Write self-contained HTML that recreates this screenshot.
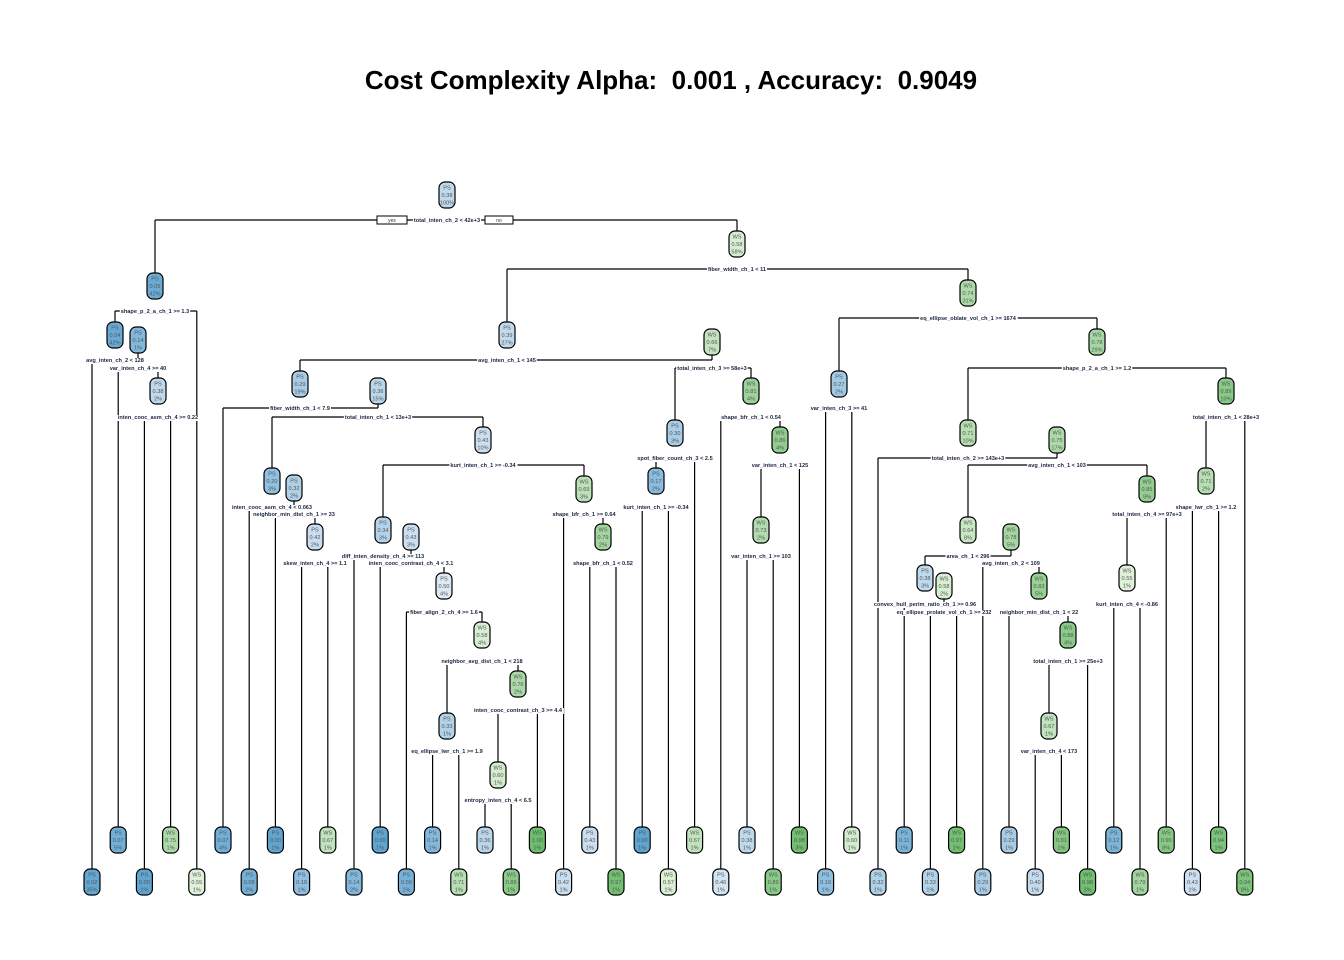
<!DOCTYPE html>
<html><head><meta charset="utf-8">
<style>
html,body{margin:0;padding:0;background:#fff;}
svg{display:block;}
</style></head>
<body>
<svg id="chart" width="1344" height="960" viewBox="0 0 1344 960" xmlns="http://www.w3.org/2000/svg">
<rect width="1344" height="960" fill="#fff"/>
<text x="671" y="89" text-anchor="middle" style="white-space:pre" xml:space="preserve" font-family="Liberation Sans, sans-serif" font-weight="bold" font-size="26" fill="#000">Cost Complexity Alpha:  0.001 , Accuracy:  0.9049</text>
<g id="edges"></g>
<g id="labels"></g>
<g id="nodes"></g>
</svg>
<script>
// ---- data ----
const leafClass = ["PS","PS","PS","WS","WS","PS","PS","PS","PS","WS","PS","PS","PS","PS","WS","PS","WS","WS","PS","PS","WS","PS","WS","WS","PS","PS","WS","WS","PS","WS","PS","PS","PS","WS","PS","PS","PS","WS","WS","PS","WS","WS","PS","WS","WS"];
const leafProb = [0.02,0.07,0.00,0.75,0.55,0.07,0.08,0.00,0.19,0.67,0.14,0.00,0.09,0.14,0.71,0.36,0.89,1.00,0.42,0.43,0.97,0.00,0.57,0.67,0.46,0.38,0.89,0.98,0.19,0.60,0.32,0.11,0.33,0.97,0.29,0.29,0.40,0.91,0.98,0.12,0.79,0.90,0.43,0.94,0.94];
const leafPct = ["35%","5%","1%","1%","1%","4%","2%","1%","1%","1%","2%","1%","1%","1%","1%","1%","1%","1%","1%","1%","1%","1%","1%","1%","1%","1%","1%","3%","1%","1%","1%","1%","1%","1%","1%","1%","1%","1%","3%","1%","1%","8%","1%","1%","8%"];

const nodeIds = ["N0","N1","N3","N5","N6","N2","N7","N9","N12","N13","N15","N16","N14","N17","N19","N20","N21","N22","N23","N24","N18","N25","N10","N26","N28","N27","N29","N30","N8","N31","N32","N33","N35","N36","N38","N40","N39","N41","N42","N43","N37","N44","N34","N45"];
const nodeClass = ["PS","PS","PS","PS","PS","WS","PS","PS","PS","PS","PS","PS","PS","PS","PS","PS","WS","PS","WS","WS","WS","WS","WS","PS","PS","WS","WS","WS","WS","PS","WS","WS","WS","WS","PS","WS","WS","WS","WS","WS","WS","WS","WS","WS"];
const nodeProb = [0.38,0.05,0.04,0.14,0.38,0.58,0.39,0.29,0.36,0.20,0.32,0.42,0.43,0.34,0.43,0.50,0.58,0.33,0.76,0.60,0.69,0.79,0.66,0.30,0.17,0.81,0.86,0.73,0.74,0.27,0.78,0.71,0.75,0.64,0.38,0.58,0.78,0.83,0.88,0.67,0.85,0.55,0.89,0.71];
const nodePct = ["100%","42%","42%","1%","2%","58%","27%","19%","15%","3%","2%","2%","10%","3%","3%","4%","4%","1%","2%","1%","3%","2%","7%","3%","2%","4%","4%","2%","31%","2%","29%","10%","17%","8%","3%","2%","5%","5%","4%","1%","9%","1%","10%","2%"];
const nodeSplit = ["total_inten_ch_2 < 42e+3","shape_p_2_a_ch_1 >= 1.3","avg_inten_ch_2 < 128","var_inten_ch_4 >= 40","inten_cooc_asm_ch_4 >= 0.22","fiber_width_ch_1 < 11","avg_inten_ch_1 < 145","fiber_width_ch_1 < 7.9","total_inten_ch_1 < 13e+3","inten_cooc_asm_ch_4 < 0.063","neighbor_min_dist_ch_1 >= 33","skew_inten_ch_4 >= 1.1","kurt_inten_ch_1 >= -0.34","diff_inten_density_ch_4 >= 113","inten_cooc_contrast_ch_4 < 3.1","fiber_align_2_ch_4 >= 1.6","neighbor_avg_dist_ch_1 < 218","eq_ellipse_lwr_ch_1 >= 1.9","inten_cooc_contrast_ch_3 >= 4.4","entropy_inten_ch_4 < 6.5","shape_bfr_ch_1 >= 0.64","shape_bfr_ch_1 < 0.52","total_inten_ch_3 >= 58e+3","spot_fiber_count_ch_3 < 2.5","kurt_inten_ch_1 >= -0.34","shape_bfr_ch_1 < 0.54","var_inten_ch_1 < 125","var_inten_ch_1 >= 103","eq_ellipse_oblate_vol_ch_1 >= 1674","var_inten_ch_3 >= 41","shape_p_2_a_ch_1 >= 1.2","total_inten_ch_2 >= 143e+3","avg_inten_ch_1 < 103","area_ch_1 < 296","convex_hull_perim_ratio_ch_1 >= 0.96","eq_ellipse_prolate_vol_ch_1 >= 232","avg_inten_ch_2 < 109","neighbor_min_dist_ch_1 < 22","total_inten_ch_1 >= 25e+3","var_inten_ch_4 < 173","total_inten_ch_4 >= 97e+3","kurt_inten_ch_4 < -0.86","total_inten_ch_1 < 28e+3","shape_lwr_ch_1 >= 1.2"];
const nodeKids = [["N1","N2"],["N3","L4"],["L0","N5"],["L1","N6"],["L2","L3"],["N7","N8"],["N9","N10"],["L5","N12"],["N13","N14"],["L6","N15"],["L7","N16"],["L8","L9"],["N17","N18"],["L10","N19"],["L11","N20"],["L12","N21"],["N22","N23"],["L13","L14"],["N24","L17"],["L15","L16"],["L18","N25"],["L19","L20"],["N26","N27"],["N28","L23"],["L21","L22"],["L24","N29"],["N30","L27"],["L25","L26"],["N31","N32"],["L28","L29"],["N33","N34"],["L30","N35"],["N36","N37"],["N38","N39"],["L31","N40"],["L32","L33"],["L34","N41"],["L35","N42"],["N43","L38"],["L36","L37"],["N44","L41"],["L39","L40"],["N45","L44"],["L42","L43"]];

// ---- layout (pixel positions, not data) ----
const layX = [447,155,115,138,158,737,507,300,378,272,294,315,483,383,411,444,482,447,518,498,584,603,712,675,656,751,780,761,968,839,1097,968,1057,968,925,944,1011,1039,1068,1049,1147,1127,1226,1206];
const layY = [195,286,335,340,391,244,335,384,391,481,488,537,440,530,537,586,635,726,684,775,489,537,342,433,481,391,440,530,293,384,342,433,440,530,578,586,537,586,635,726,489,578,391,481];
const laySY = [220,311,360,368,417,269,360,408,417,507,514,563,465,556,563,612,661,751,710,800,514,563,368,458,507,417,465,556,318,408,368,458,465,556,604,612,563,612,661,751,514,604,417,507];

const NS = "http://www.w3.org/2000/svg";
const W = 16, H = 26;
const pos = {};
nodeIds.forEach((id,i)=>{ pos[id] = {x:layX[i], y:layY[i]}; });
leafClass.forEach((c,i)=>{ pos["L"+i] = {x:92 + 26.2*i, y:(i%2===0)?882:840}; });

function mix(a,b,t){
  t=Math.max(0,Math.min(1,t));
  const pa=[parseInt(a.slice(1,3),16),parseInt(a.slice(3,5),16),parseInt(a.slice(5,7),16)];
  const pb=[parseInt(b.slice(1,3),16),parseInt(b.slice(3,5),16),parseInt(b.slice(5,7),16)];
  return "rgb("+pa.map((v,k)=>Math.round(v+(pb[k]-v)*t)).join(",")+")";
}
function fillFor(cls,p){
  if(cls==="PS") return mix("#dde9f5","#5ea5d2",(0.5-p)/0.5);
  return mix("#edf7e6","#6cbd6c",(p-0.5)/0.5);
}

const gE=document.getElementById("edges"), gL=document.getElementById("labels"), gN=document.getElementById("nodes");
function el(tag,attrs,parent){const e=document.createElementNS(NS,tag);for(const k in attrs)e.setAttribute(k,attrs[k]);parent.appendChild(e);return e;}

function drawNode(id,cls,p,pct){
  const {x,y}=pos[id];
  const g=el("g",{},gN);
  
  
  el("rect",{x:x-W/2,y:y-H/2,width:W,height:H,rx:6,ry:6,fill:fillFor(cls,p),stroke:"#000","stroke-width":1.2},g);
  const lines=[cls,p.toFixed(2),pct];
  lines.forEach((s,k)=>{
    const t=el("text",{x:x,y:y-5.5+k*7.5,"text-anchor":"middle","font-family":"Liberation Sans, sans-serif","font-size":5.6,fill:"#555"},g);
    t.textContent=s;
  });
}

nodeIds.forEach((id,i)=>{
  const sy=laySY[i];
  const kl=pos[nodeKids[i][0]], kr=pos[nodeKids[i][1]];
  const line=el("path",{d:"M"+kl.x+","+sy+"H"+kr.x,stroke:"#000","stroke-width":1.2,fill:"none"},gE);
  
  
  [kl,kr].forEach(k=>{
    const ty = (k.y>sy)? k.y-H/2 : k.y+H/2;
    el("path",{d:"M"+k.x+","+sy+"V"+ty,stroke:"#000","stroke-width":1.2,fill:"none"},gE);
  });
  const t=el("text",{x:layX[i],y:sy+2,"text-anchor":"middle","font-family":"Liberation Sans, sans-serif","font-size":5.6,"font-weight":"bold",fill:"#1a2540"},gL);
  t.textContent=nodeSplit[i];
  
  
  const bb=t.getBBox();
  const bg=el("rect",{x:bb.x-1,y:bb.y,width:bb.width+2,height:bb.height,fill:"#fff"},gL);
  gL.insertBefore(bg,t);
});

[["yes",377,407],["no",485,513]].forEach(([s,x0,x1])=>{
  const r=el("rect",{x:x0,y:216,width:x1-x0,height:8,fill:"#fff",stroke:"#000","stroke-width":1},gL);
  
  
  const t=el("text",{x:(x0+x1)/2,y:222,"text-anchor":"middle","font-family":"Liberation Sans, sans-serif","font-size":5,fill:"#333"},gL);
  t.textContent=s;
});

nodeIds.forEach((id,i)=>drawNode(id,nodeClass[i],nodeProb[i],nodePct[i]));
leafClass.forEach((c,i)=>drawNode("L"+i,c,leafProb[i],leafPct[i]));
</script>
</body></html>
